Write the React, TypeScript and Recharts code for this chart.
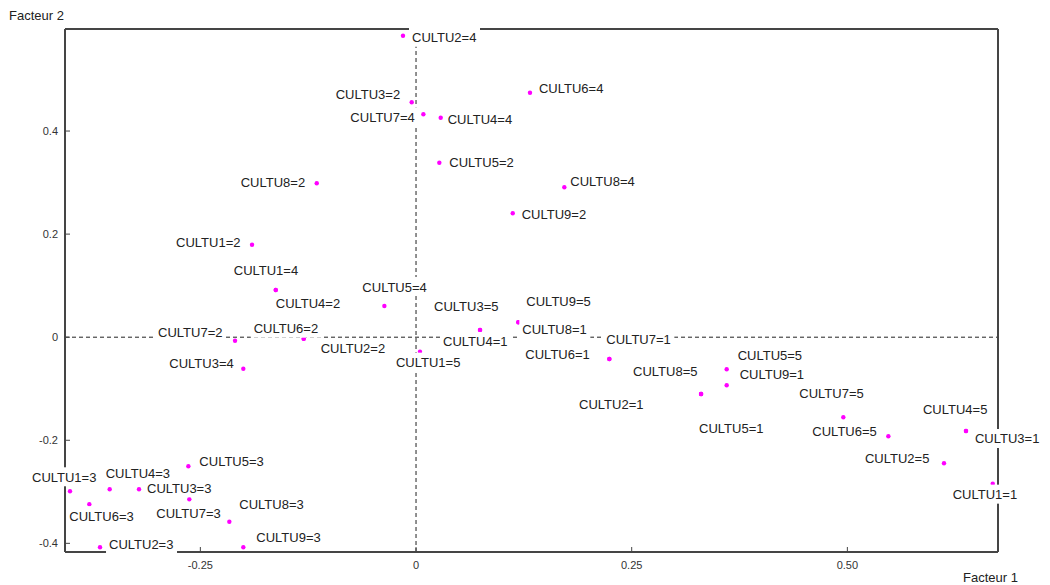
import React from 'react';
import { ScatterChart, Scatter, XAxis, YAxis, ReferenceLine } from 'recharts';

// Modalités des variables CULTU projetées sur le plan factoriel (1, 2)
const modalites = [
  'CULTU1=1', 'CULTU2=1', 'CULTU3=1', 'CULTU4=1', 'CULTU5=1', 'CULTU6=1', 'CULTU7=1', 'CULTU8=1', 'CULTU9=1',
  'CULTU1=2', 'CULTU2=2', 'CULTU3=2', 'CULTU4=2', 'CULTU5=2', 'CULTU6=2', 'CULTU7=2', 'CULTU8=2', 'CULTU9=2',
  'CULTU1=3', 'CULTU2=3', 'CULTU3=3', 'CULTU4=3', 'CULTU5=3', 'CULTU6=3', 'CULTU7=3', 'CULTU8=3', 'CULTU9=3',
  'CULTU1=4', 'CULTU2=4', 'CULTU3=4', 'CULTU4=4', 'CULTU5=4', 'CULTU6=4', 'CULTU7=4', 'CULTU8=4',
  'CULTU1=5', 'CULTU2=5', 'CULTU3=5', 'CULTU4=5', 'CULTU5=5', 'CULTU6=5', 'CULTU7=5', 'CULTU8=5', 'CULTU9=5',
];

const facteur1 = [
  0.6685, 0.3304, 0.6375, 0.0742, 0.3304, 0.2241, 0.2241, 0.1186, 0.3601,
  -0.1901, -0.1302, -0.005, -0.1626, 0.027, -0.1302, -0.2098, -0.1151, 0.1121,
  -0.4011, -0.3663, -0.3211, -0.3551, -0.2639, -0.3787, -0.2628, -0.2164, -0.2002,
  -0.1626, -0.0151, -0.2002, 0.0286, -0.0367, 0.1321, 0.0085, 0.1719,
  0.0046, 0.612, 0.0742, 0.6375, 0.3601, 0.5475, 0.4953, 0.3304, 0.1186,
];

const facteur2 = [
  -0.2842, -0.1102, -0.182, 0.014, -0.1102, -0.0423, -0.0423, 0.0289, -0.0933,
  0.1795, -0.0029, 0.4558, 0.0916, 0.3386, -0.0029, -0.0068, 0.2986, 0.2404,
  -0.299, -0.4076, -0.2951, -0.2951, -0.2505, -0.3242, -0.3145, -0.358, -0.4076,
  0.0916, 0.585, -0.0611, 0.4259, 0.0605, 0.4744, 0.4325, 0.2908,
  -0.0281, -0.2447, 0.014, -0.182, -0.0623, -0.1923, -0.1554, -0.1102, 0.0289,
];

const xTicks = [-0.25, 0, 0.25, 0.5];
const xTickLabels = ['-0.25', '0', '0.25', '0.50'];
const yTicks = [-0.4, -0.2, 0, 0.2, 0.4];
const yTickLabels = ['-0.4', '-0.2', '0', '0.2', '0.4'];

// placement of each label relative to its point: [dx to text start, dy to text middle], px
const placement: Record<string, [number, number]> = {
  'CULTU1=1': [-40, 11], 'CULTU2=1': [-122, 11], 'CULTU3=1': [9, 8], 'CULTU4=1': [-37, 12],
  'CULTU5=1': [-2, 35], 'CULTU6=1': [-84, -4], 'CULTU7=1': [-3, -19], 'CULTU8=1': [4, 7],
  'CULTU9=1': [13, -11],
  'CULTU1=2': [-76, -2], 'CULTU2=2': [17, 10], 'CULTU3=2': [-76, -8], 'CULTU4=2': [0, 14],
  'CULTU5=2': [10, 0], 'CULTU6=2': [-50, -10], 'CULTU7=2': [-77, -8], 'CULTU8=2': [-76, -1],
  'CULTU9=2': [9, 1],
  'CULTU1=3': [-38, -14], 'CULTU2=3': [9, -3], 'CULTU3=3': [8, -1], 'CULTU4=3': [-4, -16],
  'CULTU5=3': [11, -5], 'CULTU6=3': [-20, 12], 'CULTU7=3': [-33, 14], 'CULTU8=3': [10, -17],
  'CULTU9=3': [13, -10],
  'CULTU1=4': [-42, -19], 'CULTU2=4': [9, 2], 'CULTU3=4': [-74, -5], 'CULTU4=4': [7, 2],
  'CULTU5=4': [-22, -19], 'CULTU6=4': [9, -4], 'CULTU7=4': [-73, 3], 'CULTU8=4': [6, -6],
  'CULTU1=5': [-24, 11], 'CULTU2=5': [-79, -5], 'CULTU3=5': [-46, -23], 'CULTU4=5': [-43, -21],
  'CULTU5=5': [11, -14], 'CULTU6=5': [-76, -5], 'CULTU7=5': [-44, -24], 'CULTU8=5': [-68, -22],
  'CULTU9=5': [8, -21],
};

const points = modalites.map((nom, i) => ({ x: facteur1[i], y: facteur2[i], nom }));

const FONT = '"Liberation Sans", Arial, sans-serif';
const AXIS = '#454545';
const X_DOMAIN: [number, number] = [-0.4069, 0.6746];
const Y_DOMAIN: [number, number] = [-0.4168, 0.598];

const Dot = (props: any) => <circle cx={props.cx} cy={props.cy} r={2.2} fill="#ff00ff" />;

// white box behind the text so it masks dots and lines underneath
const Etiquette = (props: any) => {
  const [dx, dy] = placement[props.payload.nom] || [8, 0];
  const tx = props.cx + dx;
  const ty = props.cy + dy;
  return (
    <g>
      <rect x={tx - 3} y={ty - 10} width={71} height={19} fill="#ffffff" />
      <text x={tx} y={ty} dominantBaseline="central" fontSize={13} fontFamily={FONT} fill="#222">
        {props.payload.nom}
      </text>
    </g>
  );
};

export default function App() {
  return (
    <div style={{ position: 'absolute', left: 0, top: 0, width: 1050, height: 585, background: '#fff', fontFamily: FONT }}>
      <ScatterChart width={1050} height={585} margin={{ top: 0, right: 0, bottom: 0, left: 0 }}>
        <XAxis
          xAxisId="bas"
          type="number"
          dataKey="x"
          domain={X_DOMAIN}
          ticks={xTicks}
          tickFormatter={(v: number) => xTickLabels[xTicks.indexOf(v)]}
          height={33}
          tickSize={-5}
          tickMargin={14}
          axisLine={{ stroke: AXIS, strokeWidth: 2 }}
          tickLine={{ stroke: AXIS }}
          tick={{ fill: '#333', fontSize: 11, fontFamily: FONT }}
          zIndex={500}
        />
        <XAxis
          xAxisId="haut"
          orientation="top"
          type="number"
          domain={X_DOMAIN}
          ticks={xTicks}
          height={29}
          tickSize={-4}
          tick={false}
          axisLine={{ stroke: AXIS, strokeWidth: 2 }}
          tickLine={{ stroke: AXIS }}
          zIndex={500}
        />
        <YAxis
          yAxisId="gauche"
          type="number"
          dataKey="y"
          domain={Y_DOMAIN}
          ticks={yTicks}
          tickFormatter={(v: number) => yTickLabels[yTicks.indexOf(v)]}
          width={65}
          tickSize={-5}
          tickMargin={12}
          axisLine={{ stroke: AXIS, strokeWidth: 2 }}
          tickLine={{ stroke: AXIS }}
          tick={{ fill: '#333', fontSize: 11, fontFamily: FONT }}
          zIndex={500}
        />
        <YAxis
          yAxisId="droite"
          orientation="right"
          type="number"
          domain={Y_DOMAIN}
          ticks={yTicks}
          width={52}
          tickSize={-4}
          tick={false}
          axisLine={{ stroke: AXIS, strokeWidth: 2 }}
          tickLine={{ stroke: AXIS }}
          zIndex={500}
        />
        <ReferenceLine xAxisId="bas" yAxisId="gauche" x={0} stroke="#222" strokeDasharray="4 3" zIndex={400} />
        <ReferenceLine xAxisId="bas" yAxisId="gauche" y={0} stroke="#222" strokeDasharray="4 3" zIndex={400} />
        <Scatter xAxisId="bas" yAxisId="gauche" data={points} shape={Dot} isAnimationActive={false} zIndex={600} />
        <Scatter xAxisId="bas" yAxisId="gauche" data={points} shape={Etiquette} isAnimationActive={false} zIndex={2000} />
      </ScatterChart>
      <div style={{ position: 'absolute', left: 9, top: 9, fontSize: 13, lineHeight: '13px', color: '#222' }}>Facteur 2</div>
      <div style={{ position: 'absolute', left: 963, top: 571, fontSize: 13, lineHeight: '13px', color: '#222' }}>Facteur 1</div>
    </div>
  );
}
